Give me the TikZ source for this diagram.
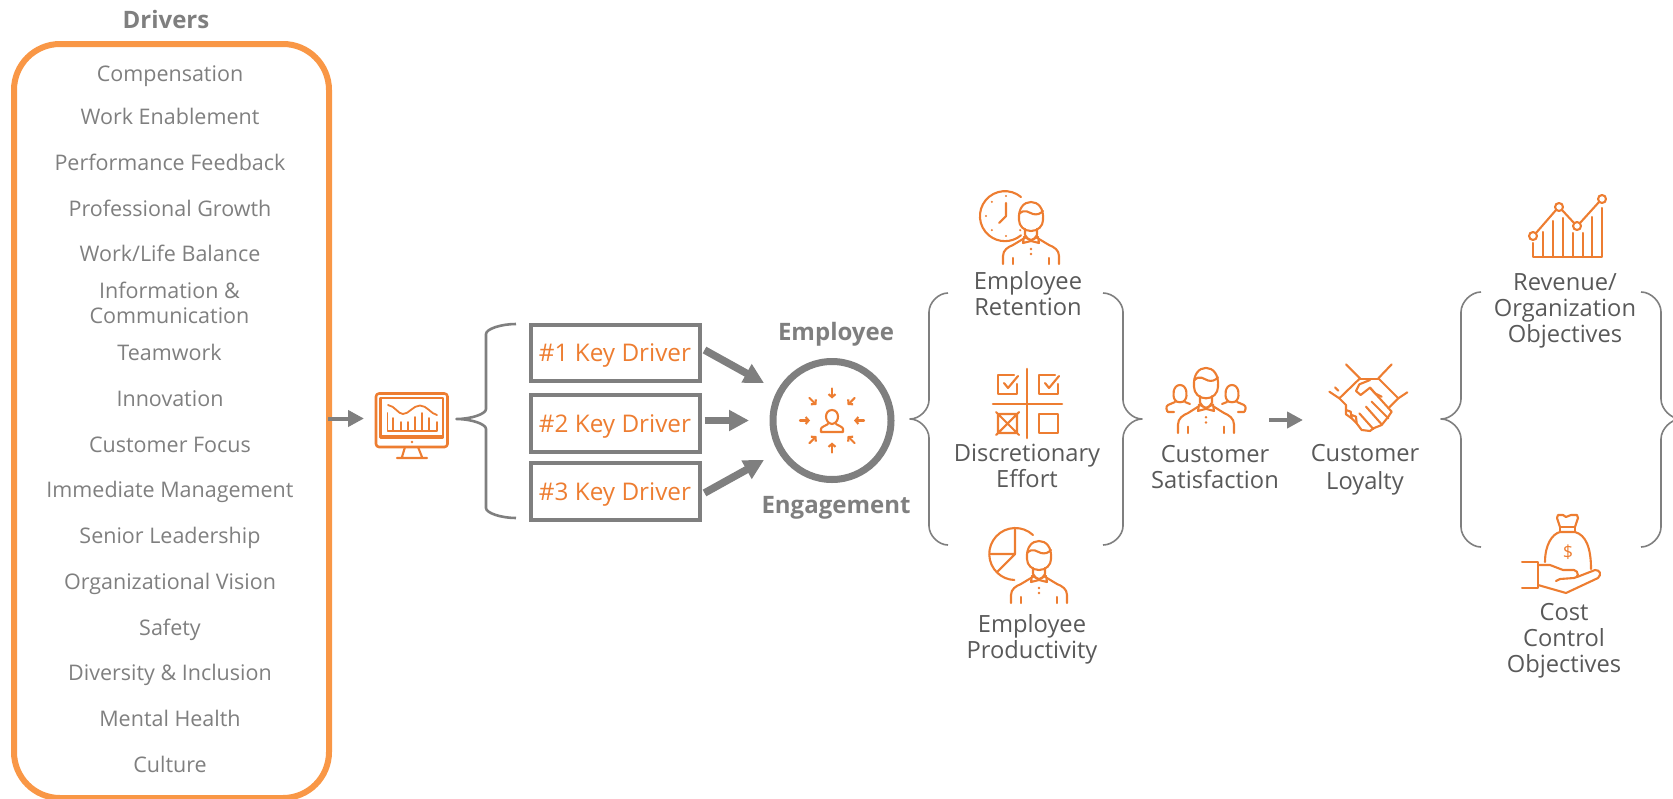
\documentclass[tikz,border=0pt]{standalone}
\usepackage{fontspec}
\setmainfont{Open Sans}
\usetikzlibrary{arrows.meta,calc}
\definecolor{panelor}{HTML}{F99746}
\definecolor{icon}{HTML}{ED7D31}
\definecolor{gr}{HTML}{7F7F7F}
\definecolor{dk}{HTML}{595959}
\tikzset{
 x=1pt,y=-1pt,
 listitem/.style={font=\fontsize{21.5}{25}\selectfont,text=gr,align=center,inner sep=0,text height=16pt,text depth=0pt,anchor=center},
 lbl/.style={font=\fontsize{23.7}{26}\selectfont,text=dk,align=center,inner sep=0,text height=17pt,text depth=0pt,anchor=center},
 headlbl/.style={font=\fontsize{24}{26}\bfseries\selectfont,text=gr,inner sep=0,text height=17pt,text depth=0pt,anchor=center},
 keybox/.style={draw=gr,line width=4pt,minimum width=169pt,minimum height=56.5pt,inner sep=0,text=icon,font=\fontsize{24.3}{27}\selectfont,text height=17pt,text depth=0pt},
 ic/.style={draw=icon,line width=2.1pt,line cap=round,line join=round},
 icd/.style={fill=icon,draw=none},
 brace/.style={draw=gr,line width=1.6pt,line join=round},
 brace1/.style={draw=gr,line width=2.6pt,line join=round},
 flowarrow/.style={draw=gr,line width=4pt,-{Triangle[width=16pt,length=16pt]},shorten <=0pt},
 bigarrow/.style={draw=gr,line width=7.5pt,-{Triangle[width=20pt,length=20pt]}},
}
\newcommand{\mybrace}[8]{% style, xe, xv, xt, ytop, ymid, ybot, ry
 \pgfmathsetmacro{\xa}{#3+0.5*(#2-#3)}
 \pgfmathsetmacro{\xb}{#3+0.5*(#4-#3)}
 \draw[#1] (#2,#5) .. controls (\xa,#5) and (#3,#5+0.5*#8) .. (#3,#5+#8)
   -- (#3,#6-#8) .. controls (#3,#6-0.5*#8) and (\xb,#6) .. (#4,#6)
   .. controls (\xb,#6) and (#3,#6+0.5*#8) .. (#3,#6+#8)
   -- (#3,#7-#8) .. controls (#3,#7-0.5*#8) and (\xa,#7) .. (#2,#7);
}
\newcommand{\person}[3][1]{%
 \begin{scope}[shift={(#2,#3)},yscale=#1]
  \draw[ic] (-12,-44) .. controls (-13,-56) and (-7,-62) .. (0,-62) .. controls (7,-62) and (13,-56) .. (12,-44)
     .. controls (12,-38) and (7,-33) .. (0,-33) .. controls (-7,-33) and (-12,-38) .. (-12,-44) -- cycle;
  \draw[ic] (-12,-50) .. controls (-6,-56) and (-2,-51) .. (2,-50) .. controls (6,-49) and (9,-50) .. (12,-53);
  \draw[ic] (-6,-35) -- (-6,-29) -- (-3,-25) (6,-35) -- (6,-29) -- (3,-25);
  \draw[ic] (-7,-27) -- (0,-24) -- (7,-27) -- (8,-21) -- (0,-23) -- (-8,-21) -- cycle;
  \draw[ic] (-28,0) -- (-28,-8) .. controls (-28,-14) and (-23,-17) .. (-18,-19) -- (-8,-25);
  \draw[ic] (28,0) -- (28,-8) .. controls (28,-14) and (23,-17) .. (18,-19) -- (8,-25);
  \draw[ic] (-18,0) -- (-18,-6) (18,0) -- (18,-6);
  \fill[icd] (0,-15) circle (1.3) (0,-10) circle (1.3);
 \end{scope}}
\newcommand{\smallperson}[2]{%
 \begin{scope}[shift={(#1,#2)}]
  \draw[ic] (0,-20) .. controls (-8,-20) and (-8,-7) .. (0,-6) .. controls (8,-7) and (8,-20) .. (0,-20) -- cycle;
  \draw[ic] (-4,-6) .. controls (-7,-4) and (-11,-3) .. (-11,-1) -- (-11,2) -- (11,2) -- (11,-1) .. controls (11,-3) and (7,-4) .. (4,-6);
 \end{scope}}
\begin{document}
\begin{tikzpicture}
\useasboundingbox (0,0) rectangle (1673,798);
\begin{scope}
\clip (0,0) rectangle (1673,798);
% left panel
\node[headlbl] (drv) at (166,20) {Drivers};
\node[draw=panelor,line width=6pt,rounded corners=46pt,minimum width=315pt,minimum height=754pt,inner sep=0] (panel) at (171.5,421) {};
\node[listitem] (d1) at (170,73) {Compensation};
\node[listitem] (d2) at (170,116) {Work Enablement};
\node[listitem] (d3) at (170,162.5) {Performance Feedback};
\node[listitem] (d4) at (170,208) {Professional Growth};
\node[listitem] (d5) at (170,253) {Work/Life Balance};
\node[listitem] (d6) at (169.5,315.5) {Information \&\\Communication};
\node[listitem] (d7) at (169.5,352) {Teamwork};
\node[listitem] (d8) at (170,398) {Innovation};
\node[listitem] (d9) at (170,444) {Customer Focus};
\node[listitem] (d10) at (170,489) {Immediate Management};
\node[listitem] (d11) at (170,535) {Senior Leadership};
\node[listitem] (d12) at (170,581) {Organizational Vision};
\node[listitem] (d13) at (170,627) {Safety};
\node[listitem] (d14) at (170,672) {Diversity \& Inclusion};
\node[listitem] (d15) at (170,718) {Mental Health};
\node[listitem] (d16) at (170,764) {Culture};
% monitor
\coordinate (monw) at (364,418.5);
\coordinate (panE) at (328,418.5);
\draw[flowarrow] (panE) -- (monw);
\draw[ic,line width=2.6pt,rounded corners=3pt] (376,393.5) rectangle (447.5,447);
\draw[ic,line width=2.4pt] (380.5,398) rectangle (443,437.5);
\draw[ic,line width=2pt] (380.5,435.5) -- (443,435.5);
\draw[ic] (405,447) -- (402,457) (418,447) -- (422,457) (397,458) -- (427,458);
\fill[icd] (412,442) circle (1.3);
\draw[ic,line width=1.8pt] (387.5,413) -- (387.5,431) -- (437,431) (393,431) -- (393,418) (401,431) -- (401,422) (408,431) -- (408,422) (415,431) -- (415,417) (422,431) -- (422,413) (429,431) -- (429,418) (437,431) -- (437,422);
\draw[ic,line width=1.8pt] (388,405) .. controls (395,406) and (398,414) .. (403,414) .. controls (409,414) and (413,405.5) .. (420,405.5) .. controls (427,405.5) and (431,414) .. (437,415);
% brace 1
\mybrace{brace1}{516}{486}{456.5}{324}{419}{518}{10}
% key boxes
\node[keybox] (k1) at (615,353) {\#1 Key Driver};
\node[keybox] (k2) at (615,423.5) {\#2 Key Driver};
\node[keybox] (k3) at (615,491.5) {\#3 Key Driver};
% big arrows
\coordinate (a1) at (764,383); \coordinate (a2) at (749,420.5); \coordinate (a3) at (764,460);
\coordinate (s1) at (704.5,350); \coordinate (s2) at (704.5,420.5); \coordinate (s3) at (704.5,493);
\draw[bigarrow] (s1) -- (a1);
\draw[bigarrow] (s2) -- (a2);
\draw[bigarrow] (s3) -- (a3);
% engagement circle
\node[draw=gr,line width=7pt,circle,minimum size=118pt,inner sep=0] (eng) at (832,420.5) {};
\node[headlbl] (emp) at (836,332) {Employee};
\node[headlbl] (enga) at (836,505) {Engagement};
\smallperson{832}{430}
\foreach \a in {0,45,...,315}{
  \draw[ic,-{Straight Barb[length=3pt,width=7pt]}] ($(eng.center)+(\a:32)$) -- ($(eng.center)+(\a:22)$);
}
% brace 2
\mybrace{brace}{948}{929}{910}{293}{419}{545}{19}
\mybrace{brace}{1103}{1123}{1142}{293}{419}{545}{19}
% clock person
\draw[ic] (1021,197) arc[start angle=-50,end angle=-310,radius=25] ;
\draw[ic] (1006,203) -- (1006,216) -- (999,223);
\foreach \a in {90,135,180,225,270,45}{\fill[icd] ($(1006,216)+(\a:20)$) circle (1.2);}
\person{1031}{264}
\node[lbl] (ret) at (1028,306.5) {Employee\\Retention};
% discretionary
\draw[ic,line width=2.6pt] (1027,369) -- (1027,438) (993,404) -- (1062,404);
\draw[ic] (1014,375) -- (998,375) -- (998,394) -- (1017,394) -- (1017,384);
\draw[ic] (1004,383) -- (1008,388) -- (1018,376);
\draw[ic] (1055,375) -- (1039,375) -- (1039,394) -- (1058,394) -- (1058,384);
\draw[ic] (1045,383) -- (1049,388) -- (1059,376);
\draw[ic] (998,414) rectangle (1017,433) (996,412) -- (1019,435) (1019,412) -- (996,435);
\draw[ic] (1039,414) rectangle (1058,433);
\node[lbl] (dis) at (1027,478.5) {Discretionary\\Effort};
% productivity
\draw[ic] (1033,535) arc[start angle=-47,end angle=-268,radius=26];
\draw[ic] (1015,528) -- (1015,554) -- (990,554) (1015,554) -- (997,572);
\person{1039}{603}
\node[lbl] (pro) at (1032,649.5) {Employee\\Productivity};
% customer group
\person[1.05]{1206}{433}
\draw[ic] (1180,385) .. controls (1173,385) and (1172,396) .. (1175,400) .. controls (1176,403) and (1184,403) .. (1185,400) .. controls (1188,396) and (1187,385) .. (1180,385) -- cycle;
\draw[ic] (1175,402) -- (1168,405) .. controls (1165,406) and (1167,412) .. (1168,412) -- (1174,412) (1185,402) -- (1190,404);
\draw[ic] (1232,385) .. controls (1225,385) and (1224,396) .. (1227,400) .. controls (1228,403) and (1236,403) .. (1237,400) .. controls (1240,396) and (1239,385) .. (1232,385) -- cycle;
\draw[ic] (1237,402) -- (1244,405) .. controls (1247,406) and (1245,412) .. (1244,412) -- (1238,412) (1227,402) -- (1222,404);
\node[lbl] (sat) at (1215,480) {Customer\\Satisfaction};
% arrow sat to loyalty
\coordinate (fa) at (1269,420); \coordinate (fb) at (1303,420);
\draw[flowarrow] (fa) -- (fb);
% handshake
\begin{scope}[shift={(1320,355)},x=0.3333pt,y=-0.3333pt]
\draw[ic] (78,28) -- (120,70) -- (58,130) -- (28,110);
\draw[ic] (215,28) -- (175,70) -- (235,130) -- (262,112);
\draw[ic] (120,72) -- (175,72);
\draw[ic] (45,97) -- (55,107);
\draw[ic] (150,75) -- (118,88) -- (108,108) -- (122,120) -- (150,98) -- (165,115) -- (185,125);
\draw[ic] (150,98) -- (215,170) -- (205,185);
\draw[ic] (235,130) -- (205,160);
\draw[ic] (58,130) -- (78,150) -- (78,178) -- (95,190) -- (110,205) -- (125,225) -- (150,228) -- (160,220) -- (185,210) -- (205,185);
\draw[ic] (155,140) -- (205,190) (138,155) -- (185,208) (118,175) -- (160,222);
\draw[ic] (78,165) -- (92,170) -- (95,190) (95,180) -- (108,185) -- (110,205);
\end{scope}
\node[lbl] (loy) at (1365,481) {Customer\\[2pt]Loyalty};
% brace 3
\mybrace{brace}{1481}{1461}{1441}{292}{419}{547}{20}
\mybrace{brace}{1641}{1661}{1681}{292}{419}{547}{20}
% revenue icon
\draw[ic] (1533,243) -- (1533,257) -- (1602,257) -- (1602,208);
\foreach \x/\t in {1543/232,1553/221,1563/218,1573/233,1583/233,1592/217}{\draw[ic] (\x,\t) -- (\x,257);}
\draw[ic] (1536,233) -- (1556,210) (1562,210) -- (1574,223) (1580,223) -- (1599,202);
\foreach \x/\y in {1533/236,1559/207,1577/226,1602/199}{\draw[ic] (\x,\y) circle (4);}
\node[lbl] (rev) at (1565,333.5) {Revenue/\\Organization\\Objectives};
% money icon
\draw[ic] (1545,562) .. controls (1545,545) and (1552,534) .. (1560,532) -- (1575,532) .. controls (1586,535) and (1591,548) .. (1591,569);
\draw[ic] (1560,532) -- (1560,527) -- (1575,527) -- (1575,532);
\draw[ic] (1560,527) -- (1557,518) -- (1558,515) -- (1563,515) -- (1566,517) -- (1571,515) -- (1577,515) -- (1578,518) -- (1575,527);
\node[text=icon,font=\fontsize{18}{18}\selectfont,inner sep=0] (dollar) at (1568,552) {\$};
\draw[ic] (1522,562) -- (1538,562) -- (1538,588) -- (1522,588);
\draw[ic] (1538,565) -- (1550,565) -- (1563,570) -- (1574,570) .. controls (1579,571) and (1579,578) .. (1574,578) -- (1560,579) -- (1556,581);
\draw[ic] (1538,585) -- (1566,593) -- (1598,578) .. controls (1602,574) and (1600,570) .. (1595,570) -- (1577,577);
\node[lbl] (cost) at (1564,663.5) {Cost\\Control\\Objectives};
\end{scope}
\end{tikzpicture}
\end{document}
